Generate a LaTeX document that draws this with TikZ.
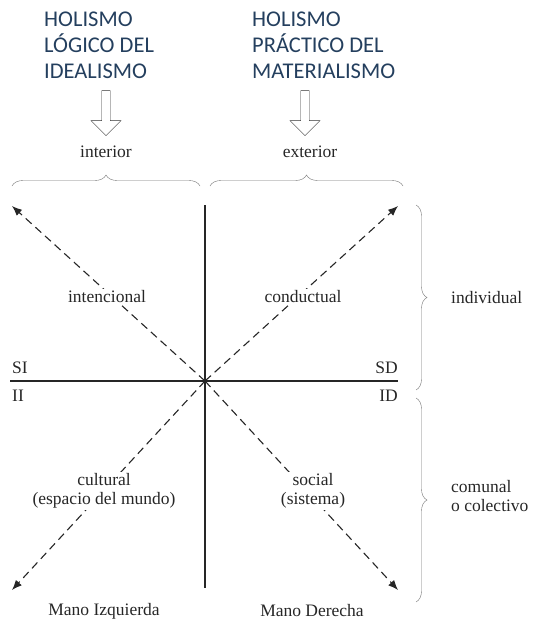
\documentclass[tikz,border=0pt]{standalone}
\usepackage{fontspec}
\setmainfont{Liberation Serif}
\newfontfamily\headfont{Carlito}
\usetikzlibrary{arrows.meta, positioning, shapes.arrows, decorations.pathreplacing}
\definecolor{headblue}{HTML}{243F5E}
\tikzset{
  label/.style={font=\fontsize{17.5}{19}\selectfont, text=black!85, align=center, inner sep=0pt},
  heading/.style={font=\headfont\fontsize{22.5}{26}\selectfont, text=headblue, align=left, anchor=north west, inner sep=0pt},
  hollow/.style={single arrow, draw=black!80, fill=white, shape border rotate=270, minimum height=45pt, minimum width=30pt, single arrow head extend=8pt, inner sep=3pt},
  axis/.style={draw=black!85, line width=1.2pt},
  dasharrow/.style={-{Latex[length=10pt,width=8pt]}, line width=1.1pt, dash pattern=on 8pt off 5pt, draw=black!85},
  curly/.style={draw=black!55, decorate, decoration={brace, amplitude=11pt}}
}
\begin{document}
\begin{tikzpicture}[x=1pt, y=-1pt]
\useasboundingbox (0,0) rectangle (539,623);

\node[heading] (hleft) at (44,12) {HOLISMO\\LÓGICO DEL\\IDEALISMO};
\node[heading] (hright) at (252,12) {HOLISMO\\PRÁCTICO DEL\\MATERIALISMO};

\node[hollow] (aleft) at (106,111) {};
\node[hollow] (aright) at (305,111) {};

\node[label] (interior) at (106,152) {interior};
\node[label] (exterior) at (310,152) {exterior};

\draw[curly] (12,186) -- (200,186);
\draw[curly] (210,186) -- (403,186);

\coordinate (o) at (205,381);
\coordinate (si) at (12,206);
\coordinate (sd) at (398,206);
\coordinate (ii) at (12,590);
\coordinate (id) at (398,590);

\draw[axis] (205,205) -- (205,588);
\draw[axis] (10,381) -- (398,381);

\draw[dasharrow] (o) -- (si);
\draw[dasharrow] (o) -- (sd);
\draw[dasharrow] (o) -- (ii);
\draw[dasharrow] (o) -- (id);

\node[label, fill=white, inner sep=2pt] (intencional) at (107,297) {intencional};
\node[label, fill=white, inner sep=2pt] (conductual) at (303,297) {conductual};
\node[label, fill=white, inner sep=2pt] (cultural) at (104,491) {cultural\\(espacio del mundo)};
\node[label, fill=white, inner sep=2pt] (social) at (313,491) {social\\(sistema)};

\node[label, anchor=west] (si-l) at (12,368) {SI};
\node[label, anchor=east] (sd-l) at (398,368) {SD};
\node[label, anchor=west] (ii-l) at (12,396) {II};
\node[label, anchor=east] (id-l) at (398,396) {ID};

\draw[curly] (416,205) -- (416,390);
\draw[curly] (416,398) -- (416,602);

\node[label, anchor=west] (individual) at (451,298) {individual};
\node[label, anchor=west, align=left] (comunal) at (451,496) {comunal\\o colectivo};

\node[label] (izq) at (104,611) {Mano Izquierda};
\node[label] (der) at (312,611) {Mano Derecha};
\end{tikzpicture}
\end{document}
